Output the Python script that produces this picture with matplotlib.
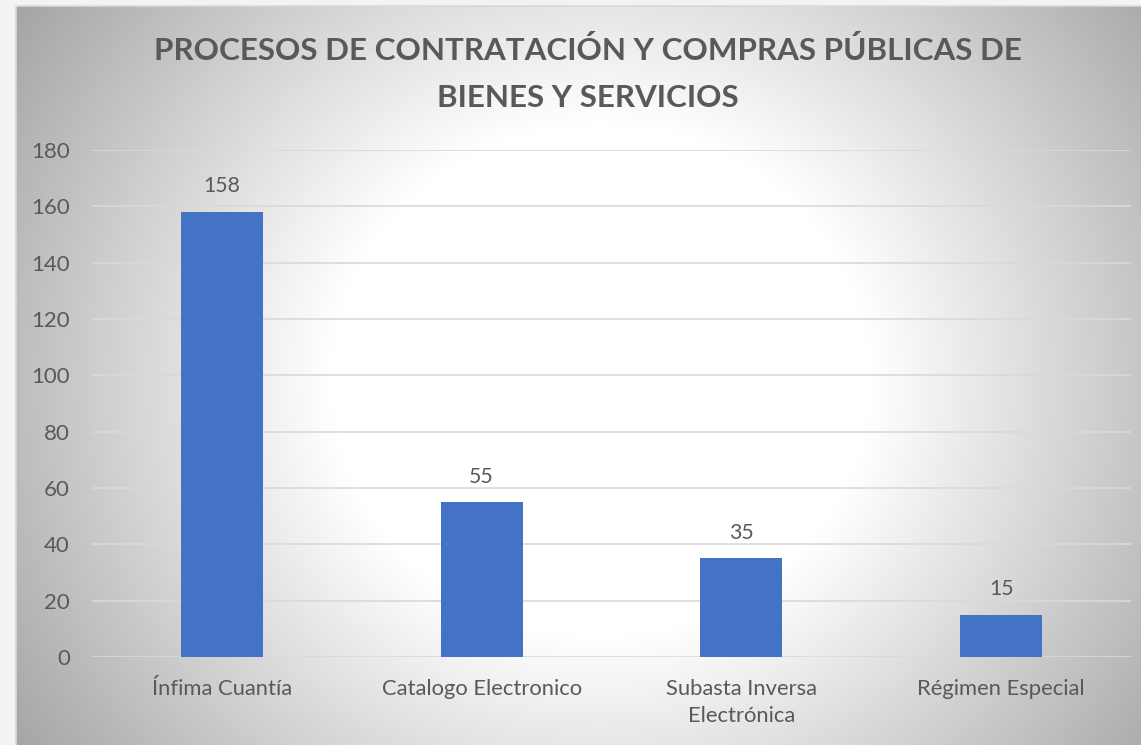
import numpy as np
import matplotlib
matplotlib.use('Agg')
import matplotlib.pyplot as plt
from matplotlib.patches import Rectangle

# ── Data ──────────────────────────────────────────────
categorias = ['Ínfima Cuantía', 'Catalogo Electronico',
              'Subasta Inversa\nElectrónica', 'Régimen Especial']
procesos = [158, 55, 35, 15]
y_ticks = [0, 20, 40, 60, 80, 100, 120, 140, 160, 180]

TXT = '#595959'
BAR = '#4472C4'
GRID = '#d9d9d9'

plt.rcParams['font.family'] = ['Lato', 'DejaVu Sans']

W, H = 1141, 745
fig = plt.figure(figsize=(W / 100, H / 100), dpi=100)

# ── Background: radial gradient chart frame ───────────
bg = fig.add_axes([0, 0, 1, 1], zorder=0)
bg.set_xlim(0, W); bg.set_ylim(H, 0); bg.axis('off')
yy, xx = np.mgrid[0:H, 0:W]
cx, cy, rx, ry = 600, 380, 574, 545
d = np.sqrt(((xx - cx) / rx) ** 2 + ((yy - cy) / ry) ** 2)
val = np.clip(1 - 0.47 * np.clip(d - 0.47, 0, None), 0.63, 1.0)
img = np.dstack([val, val, val])
bg.imshow(img, extent=[0, W, H, 0], aspect='auto', interpolation='bilinear')
bg.add_patch(Rectangle((0, 0), 16, H, fc='#f3f3f3', ec='none'))
bg.add_patch(Rectangle((0, 0), W, 6, fc='#f3f3f3', ec='none'))
bg.plot([16, 16, W], [H, 6, 6], color=GRID, lw=1.2)

# ── Bars ──────────────────────────────────────────────
ax = fig.add_axes([92 / W, 1 - 657 / H, (1131 - 92) / W, (657 - 150) / H], zorder=1)
ax.patch.set_alpha(0)
x = np.arange(len(categorias))
bars = ax.bar(x, procesos, width=0.315, color=BAR, zorder=3)
for b, v in zip(bars, procesos):
    ax.text(b.get_x() + b.get_width() / 2, v + 5.5, f'{v}', ha='center', va='bottom',
            fontsize=15.3, color=TXT)

ax.set_xlim(-0.5, len(categorias) - 0.5)
ax.set_ylim(0, 180)
ax.set_yticks(y_ticks)
ax.set_xticks(x)
ax.set_xticklabels(categorias, fontsize=15.8, color=TXT, linespacing=1.45)
ax.tick_params(axis='y', labelsize=16, labelcolor=TXT, length=0, pad=16)
ax.tick_params(axis='x', length=0, pad=16)
ax.grid(axis='y', color=GRID, lw=1.2, zorder=0)
for s in ax.spines.values():
    s.set_visible(False)

fig.text(588 / W, 1 - 51 / H, 'PROCESOS DE CONTRATACIÓN Y COMPRAS PÚBLICAS DE',
         ha='center', va='center', fontsize=22.6, fontweight='bold', color=TXT)
fig.text(588 / W, 1 - 98 / H, 'BIENES Y SERVICIOS',
         ha='center', va='center', fontsize=22.6, fontweight='bold', color=TXT)

fig.savefig('out.png', dpi=100)
